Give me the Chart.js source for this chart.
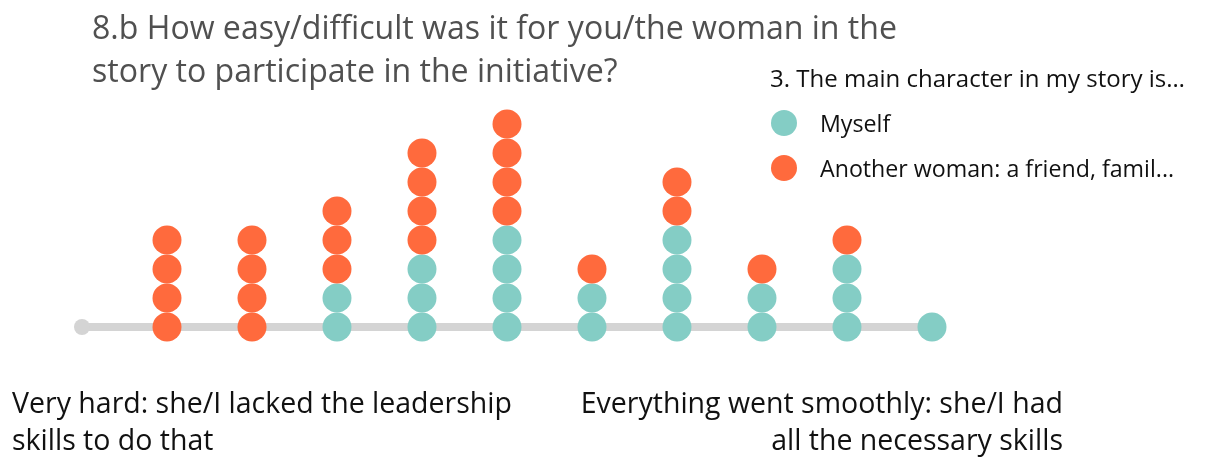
<!DOCTYPE html>
<html>
<head>
<meta charset="utf-8">
<script src="https://cdn.jsdelivr.net/npm/chart.js@4/dist/chart.umd.min.js"></script>
<style>
  html, body { margin: 0; padding: 0; background: #fff; }
  #wrap { position: relative; width: 1211px; height: 458px; overflow: hidden; font-family: "Open Sans", Lato, sans-serif; }
  canvas { position: absolute; left: 0; top: 0; }
  .txt { position: absolute; white-space: nowrap; }
  #title { left: 92px; top: 5px; font-size: 32.1px; line-height: 43px; color: #505050; }
  #legTitle { left: 770px; top: 62px; font-size: 24px; line-height: 32px; color: #111; }
  .leg { position: absolute; left: 771px; font-size: 23.2px; color: #111; }
  .leg span.dot { position: absolute; left: 0; top: 50%; width: 26px; height: 26px; margin-top: -13px; border-radius: 50%; }
  .leg span.lbl { position: absolute; left: 49px; top: 50%; transform: translateY(-50%); white-space: nowrap; }
  #lowLbl { left: 12px; top: 384px; font-size: 28.5px; line-height: 37px; color: #111; }
  #highLbl { right: 148px; top: 384px; font-size: 28.5px; line-height: 37px; color: #111; text-align: right; }
</style>
</head>
<body>
<div id="wrap">
  <canvas id="c" width="1211" height="458"></canvas>
  <div class="txt" id="title"></div>
  <div class="txt" id="legTitle"></div>
  <div id="legend"></div>
  <div class="txt" id="lowLbl"></div>
  <div class="txt" id="highLbl"></div>
</div>
<script>
// ---- data ----
const titleLines = ["8.b How easy/difficult was it for you/the woman in the", "story to participate in the initiative?"];
const legendTitle = "3. The main character in my story is…";
const seriesNames = ["Myself", "Another woman: a friend, famil..."];
const seriesColors = ["#84CDC5", "#FF6A3D"];
const categories = [1, 2, 3, 4, 5, 6, 7, 8, 9, 10];
const myself  = [0, 0, 2, 3, 4, 2, 4, 2, 3, 1];
const another = [4, 4, 3, 4, 4, 1, 2, 1, 1, 0];
const axisStart = 0;
const axisEnd = 10;
const lowLabel = ["Very hard: she/I lacked the leadership", "skills to do that"];
const highLabel = ["Everything went smoothly: she/I had", "all the necessary skills"];

// ---- text ----
document.getElementById('title').innerHTML = titleLines.join('<br>');
document.getElementById('legTitle').textContent = legendTitle;
document.getElementById('lowLbl').innerHTML = lowLabel.join('<br>');
document.getElementById('highLbl').innerHTML = highLabel.join('<br>');
const legendEl = document.getElementById('legend');
seriesNames.forEach((n, i) => {
  const d = document.createElement('div');
  d.className = 'leg';
  d.style.top = (123 + i * 45) + 'px';
  d.innerHTML = '<span class="dot" style="background:' + seriesColors[i] + '"></span><span class="lbl"></span>';
  d.querySelector('.lbl').textContent = n;
  legendEl.appendChild(d);
});

// ---- build dot stacks ----
const myPts = [], anPts = [];
categories.forEach((c, i) => {
  for (let k = 0; k < myself[i]; k++) myPts.push({ x: c, y: k });
  for (let k = 0; k < another[i]; k++) anPts.push({ x: c, y: myself[i] + k });
});

new Chart(document.getElementById('c'), {
  data: {
    datasets: [
      {
        type: 'line',
        data: [{ x: axisStart, y: 0 }, { x: axisEnd, y: 0 }],
        borderColor: '#d4d4d4',
        borderWidth: 8,
        borderCapStyle: 'round',
        pointRadius: [8, 0],
        pointBackgroundColor: '#d4d4d4',
        pointBorderWidth: 0,
        clip: false,
        order: 3
      },
      {
        type: 'scatter',
        label: seriesNames[0],
        data: myPts,
        backgroundColor: seriesColors[0],
        pointRadius: 14.5,
        borderWidth: 0,
        clip: false,
        order: 2
      },
      {
        type: 'scatter',
        label: seriesNames[1],
        data: anPts,
        backgroundColor: seriesColors[1],
        pointRadius: 14.5,
        borderWidth: 0,
        clip: false,
        order: 1
      }
    ]
  },
  options: {
    responsive: false,
    devicePixelRatio: 1,
    animation: false,
    layout: { padding: { left: 82, right: 279, top: 124, bottom: 131 } },
    plugins: { legend: { display: false }, tooltip: { enabled: false }, title: { display: false } },
    scales: {
      x: { type: 'linear', min: 0, max: 10, display: false },
      y: { type: 'linear', min: 0, max: 7, display: false }
    },
    elements: { point: { hoverRadius: 14.5 } }
  }
});
</script>
</body>
</html>
